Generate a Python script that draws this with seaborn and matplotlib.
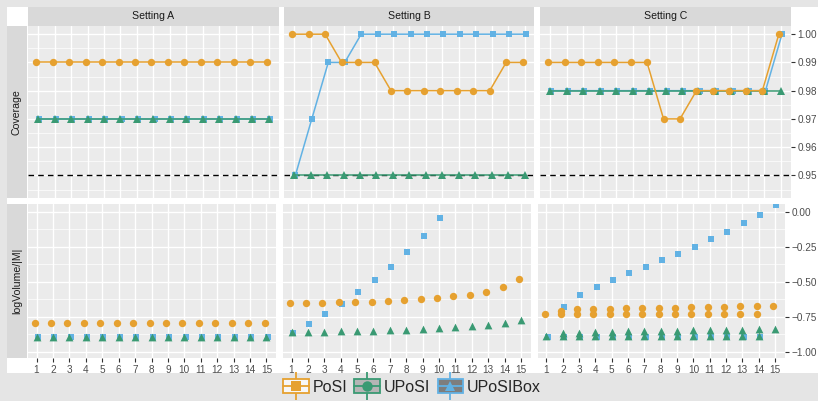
import numpy as np
import pandas as pd
import matplotlib.pyplot as plt
import seaborn as sns
from matplotlib.patches import Rectangle
from matplotlib.lines import Line2D
from matplotlib.legend_handler import HandlerTuple
from matplotlib.ticker import FixedLocator

nan = np.nan
x = list(range(1, 16))
settings = ["Setting A", "Setting B", "Setting C"]
methods = ["PoSI", "UPoSI", "UPoSIBox"]

# coverage (top row)
cov_a_posi = [0.99, 0.99, 0.99, 0.99, 0.99, 0.99, 0.99, 0.99, 0.99, 0.99, 0.99, 0.99, 0.99, 0.99, 0.99]
cov_a_uposi = [0.97, 0.97, 0.97, 0.97, 0.97, 0.97, 0.97, 0.97, 0.97, 0.97, 0.97, 0.97, 0.97, 0.97, 0.97]
cov_a_box = [0.97, 0.97, 0.97, 0.97, 0.97, 0.97, 0.97, 0.97, 0.97, 0.97, 0.97, 0.97, 0.97, 0.97, 0.97]
cov_b_posi = [1.00, 1.00, 1.00, 0.99, 0.99, 0.99, 0.98, 0.98, 0.98, 0.98, 0.98, 0.98, 0.98, 0.99, 0.99]
cov_b_uposi = [0.95, 0.95, 0.95, 0.95, 0.95, 0.95, 0.95, 0.95, 0.95, 0.95, 0.95, 0.95, 0.95, 0.95, 0.95]
cov_b_box = [0.95, 0.97, 0.99, 0.99, 1.00, 1.00, 1.00, 1.00, 1.00, 1.00, 1.00, 1.00, 1.00, 1.00, 1.00]
cov_c_posi = [0.99, 0.99, 0.99, 0.99, 0.99, 0.99, 0.99, 0.97, 0.97, 0.98, 0.98, 0.98, 0.98, 0.98, 1.00]
cov_c_uposi = [0.98, 0.98, 0.98, 0.98, 0.98, 0.98, 0.98, 0.98, 0.98, 0.98, 0.98, 0.98, 0.98, 0.98, 0.98]
cov_c_box = [0.98, 0.98, 0.98, 0.98, 0.98, 0.98, 0.98, 0.98, 0.98, 0.98, 0.98, 0.98, 0.98, 0.98, 1.00]
nominal = 0.95

# logVolume/|M| (bottom row)
vol_a_posi = [-0.79, -0.79, -0.79, -0.79, -0.79, -0.79, -0.79, -0.79, -0.79, -0.79, -0.79, -0.79, -0.79, -0.79, -0.79]
vol_a_uposi = [-0.89, -0.89, -0.89, -0.89, -0.89, -0.89, -0.89, -0.89, -0.89, -0.89, -0.89, -0.89, -0.89, -0.89, -0.89]
vol_a_box = [-0.89, -0.89, -0.89, -0.89, -0.89, -0.89, -0.89, -0.89, -0.89, -0.89, -0.89, -0.89, -0.89, -0.89, -0.89]
vol_b_posi = [-0.650, -0.648, -0.648, -0.645, -0.643, -0.640, -0.636, -0.631, -0.624, -0.615, -0.603, -0.591, -0.572, -0.539, -0.480]
vol_b_uposi = [-0.856, -0.856, -0.854, -0.852, -0.849, -0.847, -0.845, -0.840, -0.838, -0.830, -0.823, -0.816, -0.806, -0.792, -0.775]
vol_b_box = [-0.863, -0.797, -0.728, -0.655, -0.572, -0.489, -0.395, -0.288, -0.173, -0.040, nan, nan, nan, nan, nan]
vol_c_posi = [nan, -0.707, -0.695, -0.693, -0.691, -0.689, -0.687, -0.684, -0.683, -0.681, -0.679, -0.677, -0.675, -0.672, -0.669]
vol_c_posi2 = [-0.726, -0.726, -0.726, -0.726, -0.726, -0.726, -0.726, -0.726, -0.726, -0.726, -0.726, -0.726, -0.726, -0.726, nan]
vol_c_uposi = [nan, -0.865, -0.861, -0.857, -0.855, -0.853, -0.851, -0.849, -0.847, -0.846, -0.844, -0.842, -0.840, -0.838, -0.835]
vol_c_uposi2 = [-0.888, -0.888, -0.888, -0.888, -0.888, -0.888, -0.888, -0.888, -0.888, -0.888, -0.888, -0.888, -0.888, -0.888, nan]
vol_c_box = [nan, -0.679, -0.594, -0.534, -0.485, -0.438, -0.395, -0.345, -0.298, -0.248, -0.196, -0.140, -0.080, -0.019, 0.047]
vol_c_box2 = [-0.891, -0.891, -0.891, -0.891, -0.891, -0.891, -0.891, -0.891, -0.891, -0.891, -0.891, -0.891, -0.891, -0.891, nan]

cov = {
    "Setting A": {"PoSI": [cov_a_posi], "UPoSI": [cov_a_uposi], "UPoSIBox": [cov_a_box]},
    "Setting B": {"PoSI": [cov_b_posi], "UPoSI": [cov_b_uposi], "UPoSIBox": [cov_b_box]},
    "Setting C": {"PoSI": [cov_c_posi], "UPoSI": [cov_c_uposi], "UPoSIBox": [cov_c_box]},
}
vol = {
    "Setting A": {"PoSI": [vol_a_posi], "UPoSI": [vol_a_uposi], "UPoSIBox": [vol_a_box]},
    "Setting B": {"PoSI": [vol_b_posi], "UPoSI": [vol_b_uposi], "UPoSIBox": [vol_b_box]},
    "Setting C": {"PoSI": [vol_c_posi, vol_c_posi2], "UPoSI": [vol_c_uposi, vol_c_uposi2],
                  "UPoSIBox": [vol_c_box, vol_c_box2]},
}

colors = {"PoSI": "#E6A130", "UPoSI": "#3A9A73", "UPoSIBox": "#62B2E4"}
markers = {"PoSI": "o", "UPoSI": "^", "UPoSIBox": "s"}
msize = {"PoSI": 5.3, "UPoSI": 5.6, "UPoSIBox": 4.8}
dodge = {"PoSI": -0.12, "UPoSI": 0.0, "UPoSIBox": 0.07}
draw_order = ["UPoSIBox", "UPoSI", "PoSI"]

sns.set_style("white")
plt.rcParams['font.family'] = ['Liberation Sans', 'DejaVu Sans']

W, H = 818, 401
fig = plt.figure(figsize=(W / 100, H / 100), dpi=100, facecolor="#E5E5E5")


def px_axes(x0, y0, x1, y1, **kw):
    return fig.add_axes([x0 / W, 1 - y1 / H, (x1 - x0) / W, (y1 - y0) / H], **kw)


fig.patches.append(Rectangle((7 / W, 1 - 373 / H), (W - 7) / W, 366 / H,
                             transform=fig.transFigure, facecolor="white",
                             edgecolor="none", zorder=-5))

top_cols = [(28, 278.5), (284, 534.5), (540, 790.7)]
bot_cols = [(27.5, 276.5), (282.5, 531), (537.5, 785)]
top_rows = (26, 197.7)
bot_rows = (204, 358)


def style_panel(ax):
    ax.set_facecolor("#EBEBEB")
    for s in ax.spines.values():
        s.set_visible(False)
    ax.set_axisbelow(True)
    ax.grid(which="major", color="white", lw=1.0)
    ax.grid(which="minor", axis="y", color="white", lw=0.5)
    ax.set_xlabel("")
    ax.set_ylabel("")


for i, st in enumerate(settings):
    # top: coverage
    ax = px_axes(top_cols[i][0], top_rows[0], top_cols[i][1], top_rows[1])
    ax.axhline(nominal, color="black", lw=1.0, ls=(0, (4, 3)), zorder=1.5)
    for m in draw_order:
        for vals in cov[st][m]:
            d = pd.DataFrame({"x": np.array(x) + dodge[m], "y": vals})
            sns.lineplot(data=d, x="x", y="y", ax=ax, color=colors[m], marker=markers[m],
                         markersize=msize[m], markeredgewidth=0, linewidth=1.1, zorder=3)
    ax.set_xlim(0.38, 15.6)
    ax.set_ylim(0.9421, 1.0029)
    ax.xaxis.set_major_locator(FixedLocator(x))
    ax.yaxis.set_major_locator(FixedLocator([0.95, 0.96, 0.97, 0.98, 0.99, 1.00]))
    ax.yaxis.set_minor_locator(FixedLocator([0.945, 0.955, 0.965, 0.975, 0.985, 0.995]))
    style_panel(ax)
    ax.tick_params(axis="x", which="both", bottom=False, labelbottom=False)
    if i == 2:
        ax.yaxis.tick_right()
        ax.set_yticklabels(["0.95", "0.96", "0.97", "0.98", "0.99", "1.00"])
        ax.tick_params(axis="y", which="major", right=True, left=False, length=3, width=0.8,
                       color="#333333", labelsize=7.2, labelcolor="#4D4D4D", pad=2)
        ax.tick_params(axis="y", which="minor", length=0)
    else:
        ax.tick_params(axis="y", which="both", left=False, right=False,
                       labelleft=False, labelright=False)

    # strip
    sax = px_axes(top_cols[i][0], 7, top_cols[i][1], 25.5)
    sax.set_facecolor("#D9D9D9")
    sax.set_xticks([])
    sax.set_yticks([])
    for s in sax.spines.values():
        s.set_visible(False)
    sax.text(0.5, 0.5, st, ha="center", va="center", fontsize=7.6, color="#1A1A1A",
             transform=sax.transAxes)

    # bottom: log volume
    ax = px_axes(bot_cols[i][0], bot_rows[0], bot_cols[i][1], bot_rows[1])
    for m in draw_order:
        for vals in vol[st][m]:
            d = pd.DataFrame({"x": np.array(x) + dodge[m], "y": vals}).dropna()
            sns.scatterplot(data=d, x="x", y="y", ax=ax, color=colors[m], marker=markers[m],
                            s=msize[m] ** 2, linewidth=0, zorder=3)
    ax.set_xlim(0.45, 15.61)
    ax.set_ylim(-1.043, 0.057)
    ax.xaxis.set_major_locator(FixedLocator(x))
    ax.set_xticklabels([str(v) for v in x])
    ax.yaxis.set_major_locator(FixedLocator([-1.0, -0.75, -0.5, -0.25, 0.0]))
    ax.yaxis.set_minor_locator(FixedLocator([-0.875, -0.625, -0.375, -0.125]))
    style_panel(ax)
    ax.tick_params(axis="x", which="major", bottom=True, length=3, width=0.8, color="#333333",
                   labelsize=7.2, labelcolor="#4D4D4D", pad=2)
    if i == 2:
        ax.yaxis.tick_right()
        ax.set_yticklabels(["\u22121.00", "\u22120.75", "\u22120.50", "\u22120.25", "0.00"])
        ax.tick_params(axis="y", which="major", right=True, left=False, length=3, width=0.8,
                       color="#333333", labelsize=7.2, labelcolor="#4D4D4D", pad=2)
        ax.tick_params(axis="y", which="minor", length=0)
    else:
        ax.tick_params(axis="y", which="both", left=False, right=False,
                       labelleft=False, labelright=False)

# row strips
for (y0, y1), lab in [(top_rows, "Coverage"), (bot_rows, "logVolume/|M|")]:
    rax = px_axes(7, y0, 27, y1)
    rax.set_facecolor("#D9D9D9")
    rax.set_xticks([])
    rax.set_yticks([])
    for s in rax.spines.values():
        s.set_visible(False)
    rax.text(0.5, 0.5, lab, ha="center", va="center", rotation=90, fontsize=7.6,
             color="#1A1A1A", transform=rax.transAxes)

# legend with boxplot-like keys
key_fill = {"PoSI": "#F7F7F7", "UPoSI": "#B5B5B5", "UPoSIBox": "#7E7E7E"}
key_marker = {"PoSI": "s", "UPoSI": "o", "UPoSIBox": "^"}
handles = []
for m in methods:
    c = colors[m]
    whisk = Line2D([], [], ls="None", marker="|", markersize=20, mew=1.3, color=c)
    box = Rectangle((0, 0), 1, 1, facecolor=key_fill[m], edgecolor=c, lw=1.3)
    med = Line2D([], [], color=c, lw=1.3)
    pt = Line2D([], [], ls="None", marker=key_marker[m], markersize=7.5, color=c, mew=0)
    handles.append((whisk, box, med, pt))

fig.legend(handles, methods, loc="center", bbox_to_anchor=(412 / W, 1 - 387 / H), ncol=3,
           frameon=False, fontsize=11.5, handlelength=1.6, handleheight=0.95,
           handletextpad=0.25, columnspacing=0.45, borderpad=0.1,
           handler_map={tuple: HandlerTuple(ndivide=1, pad=0)})

fig.savefig("out.png", dpi=100, facecolor=fig.get_facecolor())
